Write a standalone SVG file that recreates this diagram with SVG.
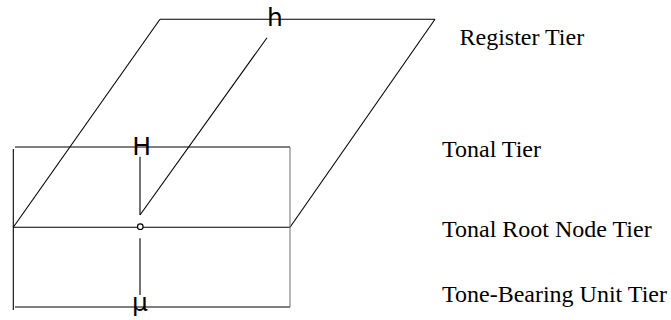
<svg xmlns="http://www.w3.org/2000/svg" width="671" height="320" viewBox="0 0 671 320">
  <style>
    .ln { stroke: #000; stroke-width: 1.1; fill: none; }
    .gr { stroke: #777; stroke-width: 1.1; fill: none; }
    .sym { font-family: "DejaVu Sans", "Liberation Sans", sans-serif; font-size: 25px; fill: #000; text-anchor: middle; }
    .lab { font-family: "Liberation Serif", "Times New Roman", serif; font-size: 24px; fill: #000; }
  </style>
  <rect width="671" height="320" fill="#fff"/>
  <g id="planes">
    <line class="ln" x1="160" y1="19.3" x2="435" y2="19.3"/>
    <line class="ln" x1="160" y1="19.3" x2="13.3" y2="227.3"/>
    <line class="ln" x1="435" y1="19.3" x2="290" y2="227.3"/>
    <line class="ln" x1="15" y1="147" x2="290" y2="147"/>
    <line class="ln" x1="13.3" y1="227.3" x2="290" y2="227.3"/>
    <line class="ln" x1="15" y1="307" x2="290" y2="307"/>
    <line class="ln" x1="13.3" y1="149" x2="13.3" y2="310"/>
    <line class="gr" x1="290" y1="147" x2="290" y2="307"/>
  </g>
  <g id="connectors">
    <line class="ln" x1="267" y1="37.7" x2="140" y2="215"/>
    <line class="ln" x1="140" y1="156.7" x2="140" y2="215"/>
    <line class="ln" x1="140" y1="238.3" x2="140" y2="295"/>
  </g>
  <g id="node-h"><text class="sym" x="275" y="26">h</text></g>
  <g id="node-H"><text class="sym" x="141.7" y="154.5">H</text></g>
  <g id="node-o"><circle cx="140.3" cy="226.7" r="2.8" fill="#fff" stroke="#000" stroke-width="1.2"/></g>
  <g id="node-mu"><text class="sym" x="140" y="311">μ</text></g>
  <g id="labels">
    <text class="lab" x="459.5" y="45">Register Tier</text>
    <text class="lab" x="442" y="156.5">Tonal Tier</text>
    <text class="lab" x="442" y="236.7">Tonal Root Node Tier</text>
    <text class="lab" x="442" y="301.7">Tone-Bearing Unit Tier</text>
  </g>
</svg>
